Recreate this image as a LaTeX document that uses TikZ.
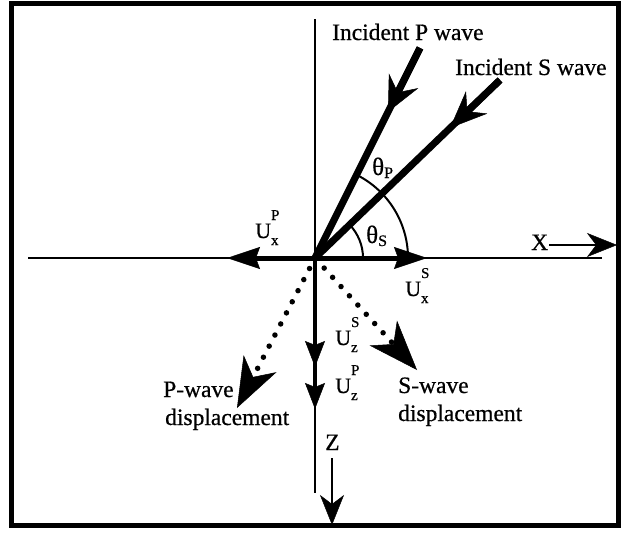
\documentclass[tikz,border=0pt]{standalone}
\usepackage{fontspec}
\setmainfont{Liberation Serif}[FakeBold=0.6]
\usetikzlibrary{arrows.meta,calc}
\newcommand\fsBig{\fontsize{23.5}{27}\selectfont}
\newcommand\fsU{\fontsize{22}{25}\selectfont}
\newcommand\fsSm{\fontsize{15}{17}\selectfont}
\newcommand\fsTh{\fontsize{25}{28}\selectfont}
\newcommand\fsThS{\fontsize{16}{18}\selectfont}
\newcommand\Ulab[2]{U\rlap{\raisebox{-7pt}{\fsSm #1}}\raisebox{18pt}{\fsSm #2}}
\begin{document}
\begin{tikzpicture}[x=1pt,y=-1pt,
  lbl/.style={inner sep=0pt, anchor=base west, font=\fsBig},
  ulbl/.style={inner sep=0pt, anchor=base west, font=\fsU},
  thlbl/.style={inner sep=0pt, anchor=base west, font=\fsTh},
  axisline/.style={line width=2pt},
  wave/.style={line width=7pt},
  comp/.style={line width=5pt},
  vcomp/.style={line width=4.5pt},
  dots/.style={line width=5.5pt, line cap=round, dash pattern=on 0pt off 12.5pt},
  hhead/.style={-{Stealth[length=33pt,width=22pt,inset=4pt,line width=0.5pt]}},
  vhead/.style={-{Stealth[length=26pt,width=20pt,inset=4pt,line width=0.5pt]}},
  dhead/.style={-{Stealth[length=50pt,width=37pt,inset=15pt,line width=0.5pt]}},
  axhead/.style={-{Stealth[length=30pt,width=24pt,inset=9pt,line width=0.5pt]}}
]
\useasboundingbox (0,0) rectangle (621,538);
% frame
\draw[line width=5pt] (11,3.5) rectangle (618,525);
% coordinates
\coordinate (O) at (315,258);
\coordinate (Vtop) at (315,19);
\coordinate (Vbot) at (315,493);
\coordinate (Hl) at (28,258);
\coordinate (Hr) at (602,258);
\coordinate (UxP) at (227,258);
\coordinate (UxS) at (427,258);
\coordinate (Uz1) at (315,367);
\coordinate (Uz2) at (315,409);
\coordinate (Ptop) at (420,48);
\coordinate (Ptip) at (388,112);
\coordinate (Stop) at (500,80);
\coordinate (Stip) at (450,128);
\coordinate (PdTip) at (237,408);
\coordinate (SdTip) at (417,370);
\coordinate (Xa) at (549,245);
\coordinate (Xb) at (617,245);
\coordinate (Za) at (332,458);
\coordinate (Zb) at (332,525);
% axes
\draw[axisline] (Vtop) -- (Vbot);
\draw[axisline] (Hl) -- (Hr);
% angle arcs
\draw[axisline] ($(O)+(93,0)$) arc[start angle=0,end angle=-63.4,radius=93];
\draw[axisline] ($(O)+(48,0)$) arc[start angle=0,end angle=-43.9,radius=48];
% incident waves
\draw[wave] (Ptop) -- (O);
\draw[wave, -{Stealth[length=35pt,width=33pt,inset=13pt,line width=0.5pt]}] (Ptop) -- (Ptip);
\draw[wave] (Stop) -- (O);
\draw[wave, -{Stealth[length=37pt,width=31pt,inset=13pt,line width=0.5pt]}] (Stop) -- (Stip);
% horizontal components
\draw[comp, hhead] (O) -- (UxP);
\draw[comp, hhead] (O) -- (UxS);
% vertical components
\draw[vcomp, vhead] (O) -- (Uz1);
\draw[vcomp, vhead] (O) -- (Uz2);
% displacements
\draw[dots, dhead] ($(O)!0.07!(PdTip)$) -- (PdTip);
\draw[dots, dhead] ($(O)!0.09!(SdTip)$) -- (SdTip);
% X and Z arrows
\draw[axisline, axhead] (Xa) -- (Xb);
\draw[axisline, axhead] (Za) -- (Zb);
% labels
\node[lbl] (tIP) at (332,40) {Incident P wave};
\node[lbl] (tIS) at (455,75) {Incident S wave};
\node[lbl] (tX) at (531,250) {X};
\node[lbl] (tZ) at (325,450) {Z};
\node[lbl] (tPw) at (163,397) {P-wave};
\node[lbl] (tPd) at (165,425) {displacement};
\node[lbl] (tSw) at (398,393) {S-wave};
\node[lbl] (tSd) at (398,421) {displacement};
\node[ulbl] (lUxP) at (255,238) {\Ulab{x}{P}};
\node[ulbl] (lUxS) at (405,296) {\Ulab{x}{S}};
\node[ulbl] (lUzS) at (335,345) {\Ulab{z}{S}};
\node[ulbl] (lUzP) at (335,393) {\Ulab{z}{P}};
\node[thlbl] (thP) at (372,175) {θ\raisebox{-3pt}{\fsThS P}};
\node[thlbl] (thS) at (366,243) {θ\raisebox{-3pt}{\fsThS S}};
\end{tikzpicture}
\end{document}
